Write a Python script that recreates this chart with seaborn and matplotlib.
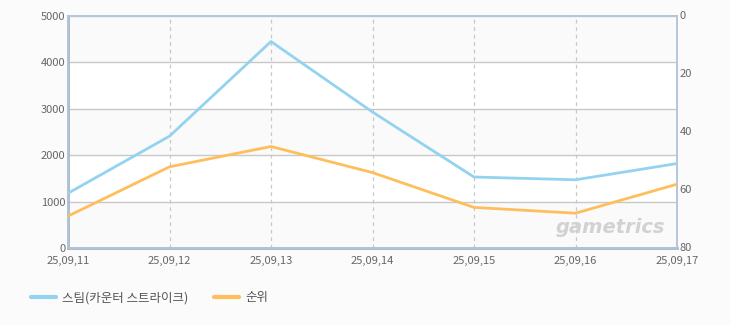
import matplotlib
matplotlib.use("Agg")
import matplotlib.pyplot as plt
import seaborn as sns
import pandas as pd

dates = ["25,09,11", "25,09,12", "25,09,13", "25,09,14", "25,09,15", "25,09,16", "25,09,17"]
steam_users = [1180, 2410, 4450, 2930, 1530, 1470, 1820]
rank = [69, 52, 45, 54, 66, 68, 58]
left_ticks = [0, 1000, 2000, 3000, 4000, 5000]
right_ticks = [0, 20, 40, 60, 80]
series_names = ["스팀(카운터 스트라이크)", "순위"]

sns.set_theme(style="white")
plt.rcParams['font.family'] = ['Noto Sans CJK KR', 'DejaVu Sans']

df = pd.DataFrame({"x": range(len(dates)), "steam": steam_users, "rank": rank})

fig = plt.figure(figsize=(7.3, 3.25), dpi=100, facecolor="#fbfbfb")
ax = fig.add_axes([68/730, 1-248/325, (677-68)/730, (248-16)/325])
ax.set_facecolor("white")

# alternating bands
for i, (lo, hi) in enumerate(zip(left_ticks[:-1], left_ticks[1:])):
    if i % 2 == 0:
        ax.axhspan(lo, hi, color="#fafafa", zorder=0, lw=0)

blue = "#93d3f0"
orange = "#ffbe5c"
sns.lineplot(data=df, x="x", y="steam", ax=ax, color=blue, lw=2, zorder=3, legend=False)
ax.set_ylim(0, 5000)
ax.set_xlim(0, len(dates) - 1)
ax.set_yticks(left_ticks)
ax.set_xticks(range(len(dates)))
ax.set_xticklabels(dates)
ax.grid(axis="y", color="#c8c8c8", lw=1, zorder=1)
for xv in range(1, len(dates) - 1):
    ax.axvline(xv, color="#c8c8c8", lw=0.9, ls=(0, (3, 3)), zorder=1)
ax.set_xlabel("")
ax.set_ylabel("")

ax2 = ax.twinx()
sns.lineplot(data=df, x="x", y="rank", ax=ax2, color=orange, lw=2, zorder=3, legend=False)
ax2.set_ylim(80, 0)
ax2.set_yticks(right_ticks)
ax2.set_ylabel("")
ax2.set_xlim(0, len(dates) - 1)

for a in (ax, ax2):
    a.tick_params(axis="y", labelsize=8, labelcolor="#666666", length=0, pad=2)
    for s in a.spines.values():
        s.set_color("#b4c6d8")
        s.set_linewidth(1.2)
ax.tick_params(axis="x", labelsize=8, labelcolor="#666666", length=0, pad=6)
ax.spines["left"].set_color("#a4b4c8")
ax.spines["left"].set_linewidth(2)
ax.spines["bottom"].set_color("#a4b4c8")
ax.spines["bottom"].set_linewidth(2)
for lab in ax2.get_yticklabels():
    lab.set_verticalalignment("center")

ax.text(0.98, 0.09, "gametrics", transform=ax.transAxes, ha="right", va="center",
        fontsize=14, fontstyle="italic", fontweight="bold", color="#d2d2d2", zorder=2,
        family="DejaVu Sans")

from matplotlib.lines import Line2D
handles = [Line2D([], [], color=blue, lw=3), Line2D([], [], color=orange, lw=3)]
fig.legend(handles, series_names, loc="center left", bbox_to_anchor=(20/730, 1-298/325),
           ncol=2, frameon=False, fontsize=9, handlelength=2, handletextpad=0.5,
           columnspacing=2, labelcolor="#555555")

fig.savefig("out.png", dpi=100, facecolor=fig.get_facecolor())
